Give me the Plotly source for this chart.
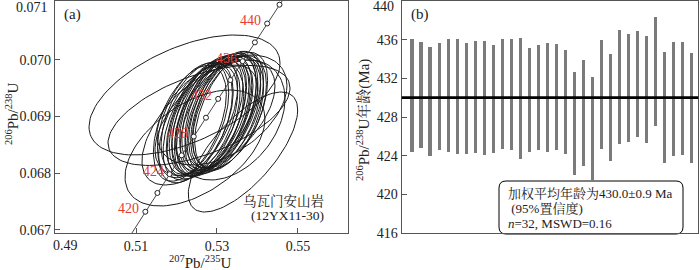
import numpy as np
import plotly.graph_objects as go

# ---------------- data ----------------
# (a) concordia ellipses: 207Pb/235U centre, 2s; 206Pb/238U centre, 2s; rho
ell_x = [0.5233, 0.5241, 0.5247, 0.5251, 0.5259, 0.5263, 0.5267, 0.5273, 0.5277, 0.5281,
         0.5283, 0.5289, 0.5291, 0.5297, 0.5299, 0.5305, 0.5309, 0.5311, 0.5317, 0.5319,
         0.5325, 0.5327, 0.5331, 0.5335,
         0.52198, 0.53642, 0.52556, 0.52457, 0.52951, 0.53123, 0.52580, 0.53321]
ell_x2s = [0.0090, 0.0088, 0.0091, 0.0089, 0.0092, 0.0088, 0.0090, 0.0091, 0.0089, 0.0092,
           0.0088, 0.0090, 0.0091, 0.0089, 0.0090, 0.0092, 0.0088, 0.0090, 0.0091, 0.0089,
           0.0090, 0.0088, 0.0091, 0.0090,
           0.02358, 0.01350, 0.02247, 0.01728, 0.01481, 0.01605, 0.01432, 0.01358]
ell_y = [0.06888, 0.06893, 0.06886, 0.06896, 0.06890, 0.06899, 0.06893, 0.06901, 0.06894, 0.06903,
         0.06897, 0.06905, 0.06898, 0.06907, 0.06900, 0.06909, 0.06903, 0.06911, 0.06904, 0.06912,
         0.06905, 0.06912, 0.06907, 0.06910,
         0.069379, 0.068374, 0.069018, 0.068445, 0.068974, 0.069115, 0.068850, 0.068938]
ell_y2s = [0.00102, 0.00101, 0.00103, 0.00100, 0.00102, 0.00101, 0.00103, 0.00102, 0.00100, 0.00104,
           0.00102, 0.00101, 0.00103, 0.00102, 0.00100, 0.00102, 0.00104, 0.00101, 0.00102, 0.00103,
           0.00101, 0.00102, 0.00100, 0.00103,
           0.001057, 0.001057, 0.000881, 0.001022, 0.001022, 0.000969, 0.001057, 0.001057]
ell_rho = [0.50, 0.48, 0.53, 0.47, 0.51, 0.54, 0.49, 0.52, 0.46, 0.50,
           0.53, 0.48, 0.51, 0.47, 0.54, 0.49, 0.52, 0.48, 0.50, 0.53,
           0.47, 0.50, 0.49, 0.52,
           0.53, 0.70, 0.55, 0.50, 0.55, 0.45, 0.60, 0.35]

# concordia ages (Ma)
conc_ages = [410 + 0.5 * i for i in range(81)]
mark_ages = [420, 422, 424, 426, 428, 430, 432, 434, 436, 438, 440, 442]
label_ages = [420, 424, 428, 432, 436, 440]

# (b) 206Pb/238U ages: upper and lower ends of the error bars (Ma)
bar_hi = [436.1, 435.8, 435.2, 435.7, 436.1, 436.1, 435.7, 435.9, 435.9, 435.5,
          436.1, 436.1, 436.2, 435.1, 435.5, 435.7, 435.6, 434.9, 432.7, 433.9,
          432.1, 436.0, 434.5, 437.0, 436.6, 436.9, 436.4, 438.3, 434.7, 435.8,
          435.8, 434.6]
bar_lo = [424.4, 424.8, 424.0, 424.6, 424.4, 424.2, 424.2, 424.3, 424.1, 424.3,
          424.7, 424.6, 423.7, 424.4, 424.6, 424.4, 424.6, 424.2, 422.0, 422.9,
          421.3, 424.7, 423.4, 425.2, 425.4, 425.9, 425.3, 427.1, 423.2, 424.0,
          424.1, 423.2]
mean_age = 430.0

# tick labels
xa_ticks = [0.49, 0.51, 0.53, 0.55]
ya_ticks = [0.067, 0.068, 0.069, 0.070, 0.071]
yb_ticks = [416, 420, 424, 428, 432, 436, 440]

L238 = 1.55125e-4  # per Ma
L235 = 9.8485e-4   # per Ma

SERIF = "Liberation Serif, Times New Roman, Noto Serif CJK SC, Noto Sans CJK SC, serif"
W, H = 700, 270
ML, MR, MT, MB = 0, 0, 1, 37


def px(x):
    return x / W


def py(y):
    return (H - MB - y) / (H - MT - MB)


fig = go.Figure()

# ellipses
th = np.linspace(0, 2 * np.pi, 121)
ex, ey = [], []
for cx, sx, cy, sy, r in zip(ell_x, ell_x2s, ell_y, ell_y2s, ell_rho):
    xs = cx + sx * np.cos(th)
    ys = cy + sy * (r * np.cos(th) + np.sqrt(1 - r * r) * np.sin(th))
    ex += list(xs) + [None]
    ey += list(ys) + [None]
fig.add_trace(go.Scatter(x=ex, y=ey, mode="lines", line=dict(color="#1a1a1a", width=1),
                         xaxis="x", yaxis="y", hoverinfo="skip", showlegend=False))

# concordia
ca = np.array(conc_ages)
fig.add_trace(go.Scatter(x=np.exp(L235 * ca) - 1, y=np.exp(L238 * ca) - 1, mode="lines",
                         line=dict(color="#333", width=0.9), xaxis="x", yaxis="y",
                         showlegend=False, hoverinfo="skip"))
ma = np.array(mark_ages)
fig.add_trace(go.Scatter(x=np.exp(L235 * ma) - 1, y=np.exp(L238 * ma) - 1, mode="markers",
                         marker=dict(symbol="circle", size=5, color="white",
                                     line=dict(color="#222", width=1)),
                         xaxis="x", yaxis="y", showlegend=False, hoverinfo="skip"))

# bars
idx = list(range(1, len(bar_hi) + 1))
fig.add_trace(go.Bar(x=idx, base=bar_lo, y=[h - l for h, l in zip(bar_hi, bar_lo)],
                     width=0.4, marker=dict(color="#7b7b7b", line=dict(width=0)),
                     xaxis="x2", yaxis="y2", showlegend=False, hoverinfo="skip"))

axis_common = dict(showgrid=False, zeroline=False, showline=True, mirror=True, automargin=False,
                   linecolor="#555", linewidth=1.2, ticklen=5,
                   tickcolor="#555", tickfont=dict(family=SERIF, size=14, color="#222"))

fig.update_layout(
    width=W, height=H, margin=dict(l=ML, r=MR, t=MT, b=MB, autoexpand=False),
    paper_bgcolor="white", plot_bgcolor="white", bargap=0,
    xaxis=dict(domain=[55 / W, 348 / W], range=[0.49, 0.56235], ticks="inside",
               tickvals=xa_ticks[1:], anchor="y", **axis_common),
    yaxis=dict(domain=[0, 1], range=[0.066947, 0.071035], ticks="inside",
               tickvals=ya_ticks[:-1], tickformat=".3f", anchor="x", **axis_common),
    xaxis2=dict(domain=[401.7 / W, 698.3 / W], range=[-0.14, 32.78], ticks="",
                showticklabels=False, anchor="y2", **axis_common),
    yaxis2=dict(domain=[0, 1], range=[416, 440], tickvals=yb_ticks[:-1],
                ticks="inside", anchor="x2", **axis_common),
)

# mean line
fig.add_shape(type="line", xref="x2 domain", yref="y2", x0=0, x1=1, y0=mean_age, y1=mean_age,
              line=dict(color="black", width=2.6))

# rounded text box (paper coords)
bx0, bx1, by0, by1, rr = 499, 683, 181, 234, 7
path = (f"M {px(bx0 + rr)},{py(by0)} L {px(bx1 - rr)},{py(by0)} "
        f"Q {px(bx1)},{py(by0)} {px(bx1)},{py(by0 + rr)} L {px(bx1)},{py(by1 - rr)} "
        f"Q {px(bx1)},{py(by1)} {px(bx1 - rr)},{py(by1)} L {px(bx0 + rr)},{py(by1)} "
        f"Q {px(bx0)},{py(by1)} {px(bx0)},{py(by1 - rr)} L {px(bx0)},{py(by0 + rr)} "
        f"Q {px(bx0)},{py(by0)} {px(bx0 + rr)},{py(by0)} Z")
fig.add_shape(type="path", xref="paper", yref="paper", path=path,
              line=dict(color="black", width=1), fillcolor="white", layer="below")

ann = []


def A(x, y, text, size=14, color="#222", xanchor="center", angle=0):
    ann.append(dict(x=px(x), y=py(y), xref="paper", yref="paper", text=text, showarrow=False,
                    xanchor=xanchor, yanchor="middle", textangle=angle,
                    font=dict(family=SERIF, size=size, color=color)))


# edge tick labels that the axes would clip
A(65, 245, f"{xa_ticks[0]:.2f}")
A(50, 8, f"{ya_ticks[-1]:.3f}", xanchor="right")
A(396, 7, f"{yb_ticks[-1]}", xanchor="right")

A(62, 15, "(a)", size=15, xanchor="left")
A(409, 15, "(b)", size=15, xanchor="left")
A(12, 114, "<sup>206</sup>Pb/<sup>238</sup>U", size=15, angle=-90)
A(200, 262, "<sup>207</sup>Pb/<sup>235</sup>U", size=15)
A(363, 120, "<sup>206</sup>Pb/<sup>238</sup>U年龄(Ma)", size=15, angle=-90)
A(326, 201, "乌瓦门安山岩", size=13.5, xanchor="right")
A(326, 215, "(12YX11-30)", size=13.5, xanchor="right")
A(506, 193, "加权平均年龄为430.0±0.9 Ma", size=13, xanchor="left")
A(506, 208, " (95%置信度)", size=13, xanchor="left")
A(506, 223, "<i>n</i>=32, MSWD=0.16", size=13, xanchor="left")

for a in label_ages:
    ann.append(dict(x=float(np.exp(L235 * a) - 1), y=float(np.exp(L238 * a) - 1), xref="x", yref="y",
                    text=str(a), showarrow=False, xanchor="right", yanchor="middle",
                    xshift=-4, yshift=3, font=dict(family=SERIF, size=14, color="#e8392f")))

fig.update_layout(annotations=ann)
fig.write_html("out.html", config={"displayModeBar": False},
               post_script="document.body.style.margin='0';document.body.style.padding='0';")
